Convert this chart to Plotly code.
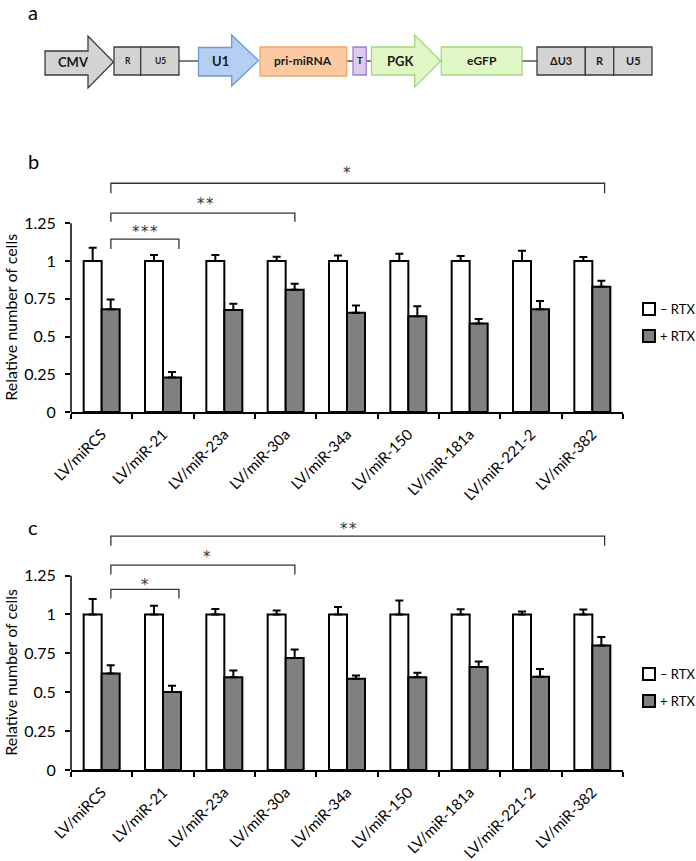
import plotly.graph_objects as go

W, H = 696, 861

categories = ["LV/miRCS", "LV/miR-21", "LV/miR-23a", "LV/miR-30a", "LV/miR-34a",
              "LV/miR-150", "LV/miR-181a", "LV/miR-221-2", "LV/miR-382"]

# Panel b
b_minus = [1, 1, 1, 1, 1, 1, 1, 1, 1]
b_minus_err = [0.088, 0.04, 0.04, 0.028, 0.037, 0.048, 0.033, 0.068, 0.026]
b_plus = [0.68, 0.228, 0.675, 0.81, 0.658, 0.634, 0.586, 0.68, 0.829]
b_plus_err = [0.065, 0.037, 0.042, 0.04, 0.048, 0.066, 0.03, 0.055, 0.04]

# Panel c
c_minus = [1, 1, 1, 1, 1, 1, 1, 1, 1]
c_minus_err = [0.1, 0.056, 0.036, 0.026, 0.049, 0.09, 0.034, 0.02, 0.032]
c_plus = [0.62, 0.502, 0.597, 0.721, 0.586, 0.597, 0.663, 0.599, 0.80]
c_plus_err = [0.054, 0.04, 0.043, 0.054, 0.021, 0.028, 0.034, 0.051, 0.056]

ytick_vals = [0, 0.25, 0.5, 0.75, 1, 1.25]
ytick_text = ["0", "0.25", "0.5", "0.75", "1", "1.25"]

S = "\u200a"
# significance brackets: (x_left, x_right, y_bar, y_drop, label, label_x, label_y)
b_brackets = [(0.15, 8.2, 1.515, 1.449, "*", 4.0, 1.58),
              (0.15, 3.15, 1.317, 1.26, f"*{S}*", 1.69, 1.375),
              (0.15, 1.26, 1.145, 1.08, f"*{S}*{S}*", 0.71, 1.19)]
c_brackets = [(0.15, 8.2, 1.504, 1.442, f"*{S}*", 4.02, 1.55),
              (0.15, 3.15, 1.318, 1.258, "*", 1.72, 1.372),
              (0.15, 1.26, 1.161, 1.103, "*", 0.71, 1.19)]

FONT = "Lato"
GREY = "#808080"


def px(x):
    return x / W


def py(y):
    return 1 - y / H


fig = go.Figure()

for vals_m, err_m, vals_p, err_p, xa, ya in [
    (b_minus, b_minus_err, b_plus, b_plus_err, "x", "y"),
    (c_minus, c_minus_err, c_plus, c_plus_err, "x2", "y2"),
]:
    fig.add_trace(go.Bar(
        x=categories, y=vals_m, xaxis=xa, yaxis=ya, name="– RTX",
        marker=dict(color="white", line=dict(color="black", width=2)),
        error_y=dict(type="data", array=err_m, arrayminus=[0] * len(err_m), symmetric=False,
                     color="black", thickness=2, width=4),
        showlegend=False))
    fig.add_trace(go.Bar(
        x=categories, y=vals_p, xaxis=xa, yaxis=ya, name="+ RTX",
        marker=dict(color=GREY, line=dict(color="black", width=2)),
        error_y=dict(type="data", array=err_p, arrayminus=[0] * len(err_p), symmetric=False,
                     color="black", thickness=2, width=4),
        showlegend=False))

xdom = [71 / W, 623 / W]
b_dom = [py(412), py(412 - 1.65 * 151)]
c_dom = [py(770), py(770 - 1.65 * 155.5)]

xaxis_common = dict(type="category", tickson="boundaries", ticks="outside", ticklen=5,
                    tickwidth=1.5, tickcolor="black", showline=True, linecolor="black",
                    linewidth=1.5, tickangle=-45, showgrid=False, zeroline=False,
                    range=[-0.5, 8.5], automargin=False, domain=xdom,
                    ticklabelstandoff=6,
                    tickfont=dict(family=FONT, size=15, color="black"))
yaxis_common = dict(range=[0, 1.65], tickvals=ytick_vals, ticktext=ytick_text,
                    ticks="outside", ticklen=5, tickwidth=1.5, tickcolor="black",
                    showline=False, showgrid=False, zeroline=False, automargin=False,
                    ticklabelstandoff=6,
                    tickfont=dict(family=FONT, size=16, color="black"))

fig.update_layout(
    width=W, height=H,
    margin=dict(l=0, r=0, t=0, b=0),
    paper_bgcolor="white", plot_bgcolor="white",
    barmode="group", bargap=0.413, bargroupgap=0,
    showlegend=False,
    xaxis=dict(xaxis_common, anchor="y"),
    yaxis=dict(yaxis_common, anchor="x", domain=b_dom),
    xaxis2=dict(xaxis_common, anchor="y2"),
    yaxis2=dict(yaxis_common, anchor="x2", domain=c_dom),
)

shapes = []
annotations = []

# y-axis lines drawn only over 0..1.25
for xr, yr in [("x", "y"), ("x2", "y2")]:
    shapes.append(dict(type="line", xref=xr + " domain", yref=yr, x0=0, x1=0, y0=0, y1=1.25,
                       line=dict(color="black", width=1.5)))
    annotations.append(dict(text="Relative number of cells", xref="paper", yref=yr,
                            x=11 / W, y=0.625, textangle=-90, showarrow=False,
                            xanchor="center", yanchor="middle",
                            font=dict(family=FONT, size=16, color="black")))

# brackets
for brs, xr, yr in [(b_brackets, "x", "y"), (c_brackets, "x2", "y2")]:
    for (xl, xrt, yb, yd, lab, lx, ly) in brs:
        path = f"M {xl},{yd} L {xl},{yb} L {xrt},{yb} L {xrt},{yd}"
        shapes.append(dict(type="path", xref=xr, yref=yr, path=path,
                           line=dict(color="#333333", width=1.3)))
        annotations.append(dict(text=lab, xref=xr, yref=yr, x=lx, y=ly, showarrow=False,
                                xanchor="center", yanchor="middle",
                                font=dict(family="DejaVu Sans", size=15, color="#333333")))

# legends (manual)
for (y_w, y_g) in [(309, 336), (674, 701)]:
    for yy, col, lab in [(y_w, "white", "– RTX"), (y_g, GREY, "+ RTX")]:
        shapes.append(dict(type="rect", xref="paper", yref="paper",
                           x0=px(643), x1=px(655), y0=py(yy - 6), y1=py(yy + 6),
                           fillcolor=col, line=dict(color="black", width=2)))
        annotations.append(dict(text=lab, xref="paper", yref="paper", x=px(658), y=py(yy),
                                xanchor="left", yanchor="middle", showarrow=False,
                                font=dict(family=FONT, size=13, color="black")))

# panel letters
for lab, yy in [("a", 12), ("b", 161), ("c", 527)]:
    annotations.append(dict(text=lab, xref="paper", yref="paper", x=px(33), y=py(yy),
                            xanchor="center", yanchor="middle", showarrow=False,
                            font=dict(family=FONT, size=20, color="black")))

# panel a: vector diagram
DG = "#3c3c3c"


def rect(x0, x1, y0, y1, fill, border):
    shapes.append(dict(type="rect", xref="paper", yref="paper",
                       x0=px(x0), x1=px(x1), y0=py(y1), y1=py(y0),
                       fillcolor=fill, line=dict(color=border, width=1.3)))


def arrow(x0, xh, xt, yb0, yb1, yh0, yh1, ym, fill, border):
    pts = [(x0, yb0), (xh, yb0), (xh, yh0), (xt, ym), (xh, yh1), (xh, yb1), (x0, yb1)]
    path = "M " + " L ".join(f"{px(a):.5f},{py(b):.5f}" for a, b in pts) + " Z"
    shapes.append(dict(type="path", xref="paper", yref="paper", path=path,
                       fillcolor=fill, line=dict(color=border, width=1.3)))


def hline(x0, x1, y):
    shapes.append(dict(type="line", xref="paper", yref="paper", x0=px(x0), x1=px(x1),
                       y0=py(y), y1=py(y), line=dict(color="#555555", width=1.5)))


def label(t, x, y, size):
    annotations.append(dict(text=f"<b>{t}</b>", xref="paper", yref="paper", x=px(x), y=py(y),
                            xanchor="center", yanchor="middle", showarrow=False,
                            font=dict(family=FONT, size=size, color="#1a1a1a")))


GREYF = "#d3d3d3"
hline(179, 199, 61)
hline(346, 354, 61)
hline(366, 372, 61)
hline(522, 538, 61)
arrow(45, 88, 113.5, 51, 75, 36, 88, 62, GREYF, DG)
rect(114, 140.7, 47, 75, GREYF, DG)
rect(140.7, 179, 47, 75, GREYF, DG)
arrow(198.5, 231.7, 258.5, 47.5, 76, 35, 86, 60.5, "#b4cff2", "#6a98d6")
rect(260, 346.7, 47, 76, "#fbcaa3", "#f0a565")
rect(353, 366.3, 47, 75, "#dccdef", "#9c80cc")
arrow(371.5, 414.7, 440.7, 47, 75, 35, 87, 61, "#e2f7c6", "#a2d77f")
rect(441.3, 522, 47, 75, "#e2f7c6", "#a2d77f")
rect(537, 585.3, 47, 75, GREYF, DG)
rect(585.3, 613.7, 47, 75, GREYF, DG)
rect(613.7, 652, 47, 75, GREYF, DG)

label("CMV", 73, 62, 13)
label("R", 127.5, 61, 8.5)
label("U5", 160, 61, 8.5)
label("U1", 220, 61, 13)
label("pri-miRNA", 303, 61, 12)
label("T", 360, 61, 9.5)
label("PGK", 400, 61, 13)
label("eGFP", 481.5, 61, 12)
label("ΔU3", 561, 61, 11)
label("R", 600, 61, 11)
label("U5", 633, 61, 11)

fig.update_layout(shapes=shapes, annotations=annotations)

fig.write_html("out.html",
               config={"displayModeBar": False},
               post_script="document.body.style.margin='0';"
                           "document.body.style.overflow='hidden';")
